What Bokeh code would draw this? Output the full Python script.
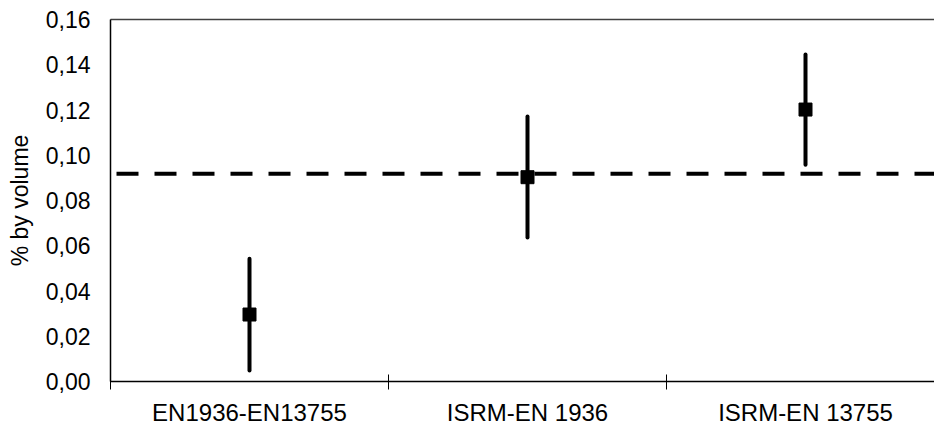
from bokeh.plotting import figure
from bokeh.models import (Range1d, LinearAxis, FixedTicker, CustomJSTickFormatter,
                          Span, ColumnDataSource, CustomLabelingPolicy)
from bokeh.embed import file_html
from bokeh.resources import INLINE

# ---- data ----
categories = ["EN1936-EN13755", "ISRM-EN 1936", "ISRM-EN 13755"]
cat_pos = [0.5, 1.5, 2.5]
means = [0.0296, 0.0903, 0.1202]
lower = [0.0049, 0.0637, 0.0958]
upper = [0.0543, 0.1171, 0.1445]
reference_value = 0.0918
y_ticks = [0.00, 0.02, 0.04, 0.06, 0.08, 0.10, 0.12, 0.14, 0.16]
boundaries = [0, 1, 2]

FONT = "Liberation Sans"

p = figure(frame_width=824, frame_height=362,
           x_range=Range1d(0, 2.964), y_range=Range1d(0, 0.16),
           output_backend="svg", toolbar_location=None,
           x_axis_location=None, y_axis_location=None,
           min_border_left=110, min_border_right=0, min_border_top=19,
           min_border_bottom=0)
p.outline_line_color = None
p.xgrid.visible = False
p.ygrid.visible = False
p.background_fill_color = "white"
p.border_fill_color = "white"

# y axis
yax = LinearAxis(ticker=FixedTicker(ticks=y_ticks, minor_ticks=[]),
                 formatter=CustomJSTickFormatter(code="return tick.toFixed(2).replace('.', ',')"))
yax.axis_label = "% by volume"
yax.axis_label_text_font = FONT
yax.axis_label_text_font_size = "23px"
yax.axis_label_text_font_style = "normal"
yax.axis_label_text_color = "black"
yax.axis_label_standoff = 10
yax.major_label_text_font = FONT
yax.major_label_text_font_size = "23px"
yax.major_label_text_color = "black"
yax.major_label_standoff = 20
yax.major_tick_line_color = None
yax.major_tick_in = 0
yax.major_tick_out = 0
yax.minor_tick_line_color = None
yax.axis_line_color = "black"
yax.axis_line_width = 1.5
p.add_layout(yax, "left")

# top border line
tax = LinearAxis(ticker=FixedTicker(ticks=[], minor_ticks=[]))
tax.major_label_text_font_size = "1px"
tax.major_label_standoff = 0
tax.major_tick_in = 0
tax.major_tick_out = 0
tax.major_tick_line_color = None
tax.minor_tick_line_color = None
tax.axis_line_color = "#404040"
tax.axis_line_width = 1.5
p.add_layout(tax, "above")

# bottom axis with boundary ticks (labels hidden by policy)
bax = LinearAxis(ticker=FixedTicker(ticks=boundaries, minor_ticks=[]))
bax.major_label_policy = CustomLabelingPolicy(code="return new Set()")
bax.major_label_text_font_size = "1px"
bax.major_label_standoff = 0
bax.major_tick_in = 7
bax.major_tick_out = 8
bax.major_tick_line_color = "black"
bax.major_tick_line_width = 1
bax.minor_tick_line_color = None
bax.axis_line_color = "black"
bax.axis_line_width = 1.5
p.add_layout(bax, "below")

# category labels axis
lax = LinearAxis(ticker=FixedTicker(ticks=cat_pos, minor_ticks=[]))
lax.major_label_overrides = {c: t for c, t in zip(cat_pos, categories)}
lax.major_label_text_font = FONT
lax.major_label_text_font_size = "24px"
lax.major_label_text_color = "black"
lax.major_label_standoff = 5
lax.major_tick_in = 0
lax.major_tick_out = 0
lax.major_tick_line_color = None
lax.minor_tick_line_color = None
lax.axis_line_color = None
p.add_layout(lax, "below")

# reference dashed line
p.add_layout(Span(location=reference_value, dimension="width",
                  line_color="black", line_width=4, line_dash="22 16",
                  line_dash_offset=32))

src = ColumnDataSource(dict(x=cat_pos, m=means, lo=lower, hi=upper))
p.segment(x0="x", y0="lo", x1="x", y1="hi", source=src,
          line_color="black", line_width=4, line_cap="round")
p.scatter(x="x", y="m", source=src, marker="square", size=13,
          fill_color="black", line_color="black")

open("out.html", "w").write(file_html(p, INLINE))
